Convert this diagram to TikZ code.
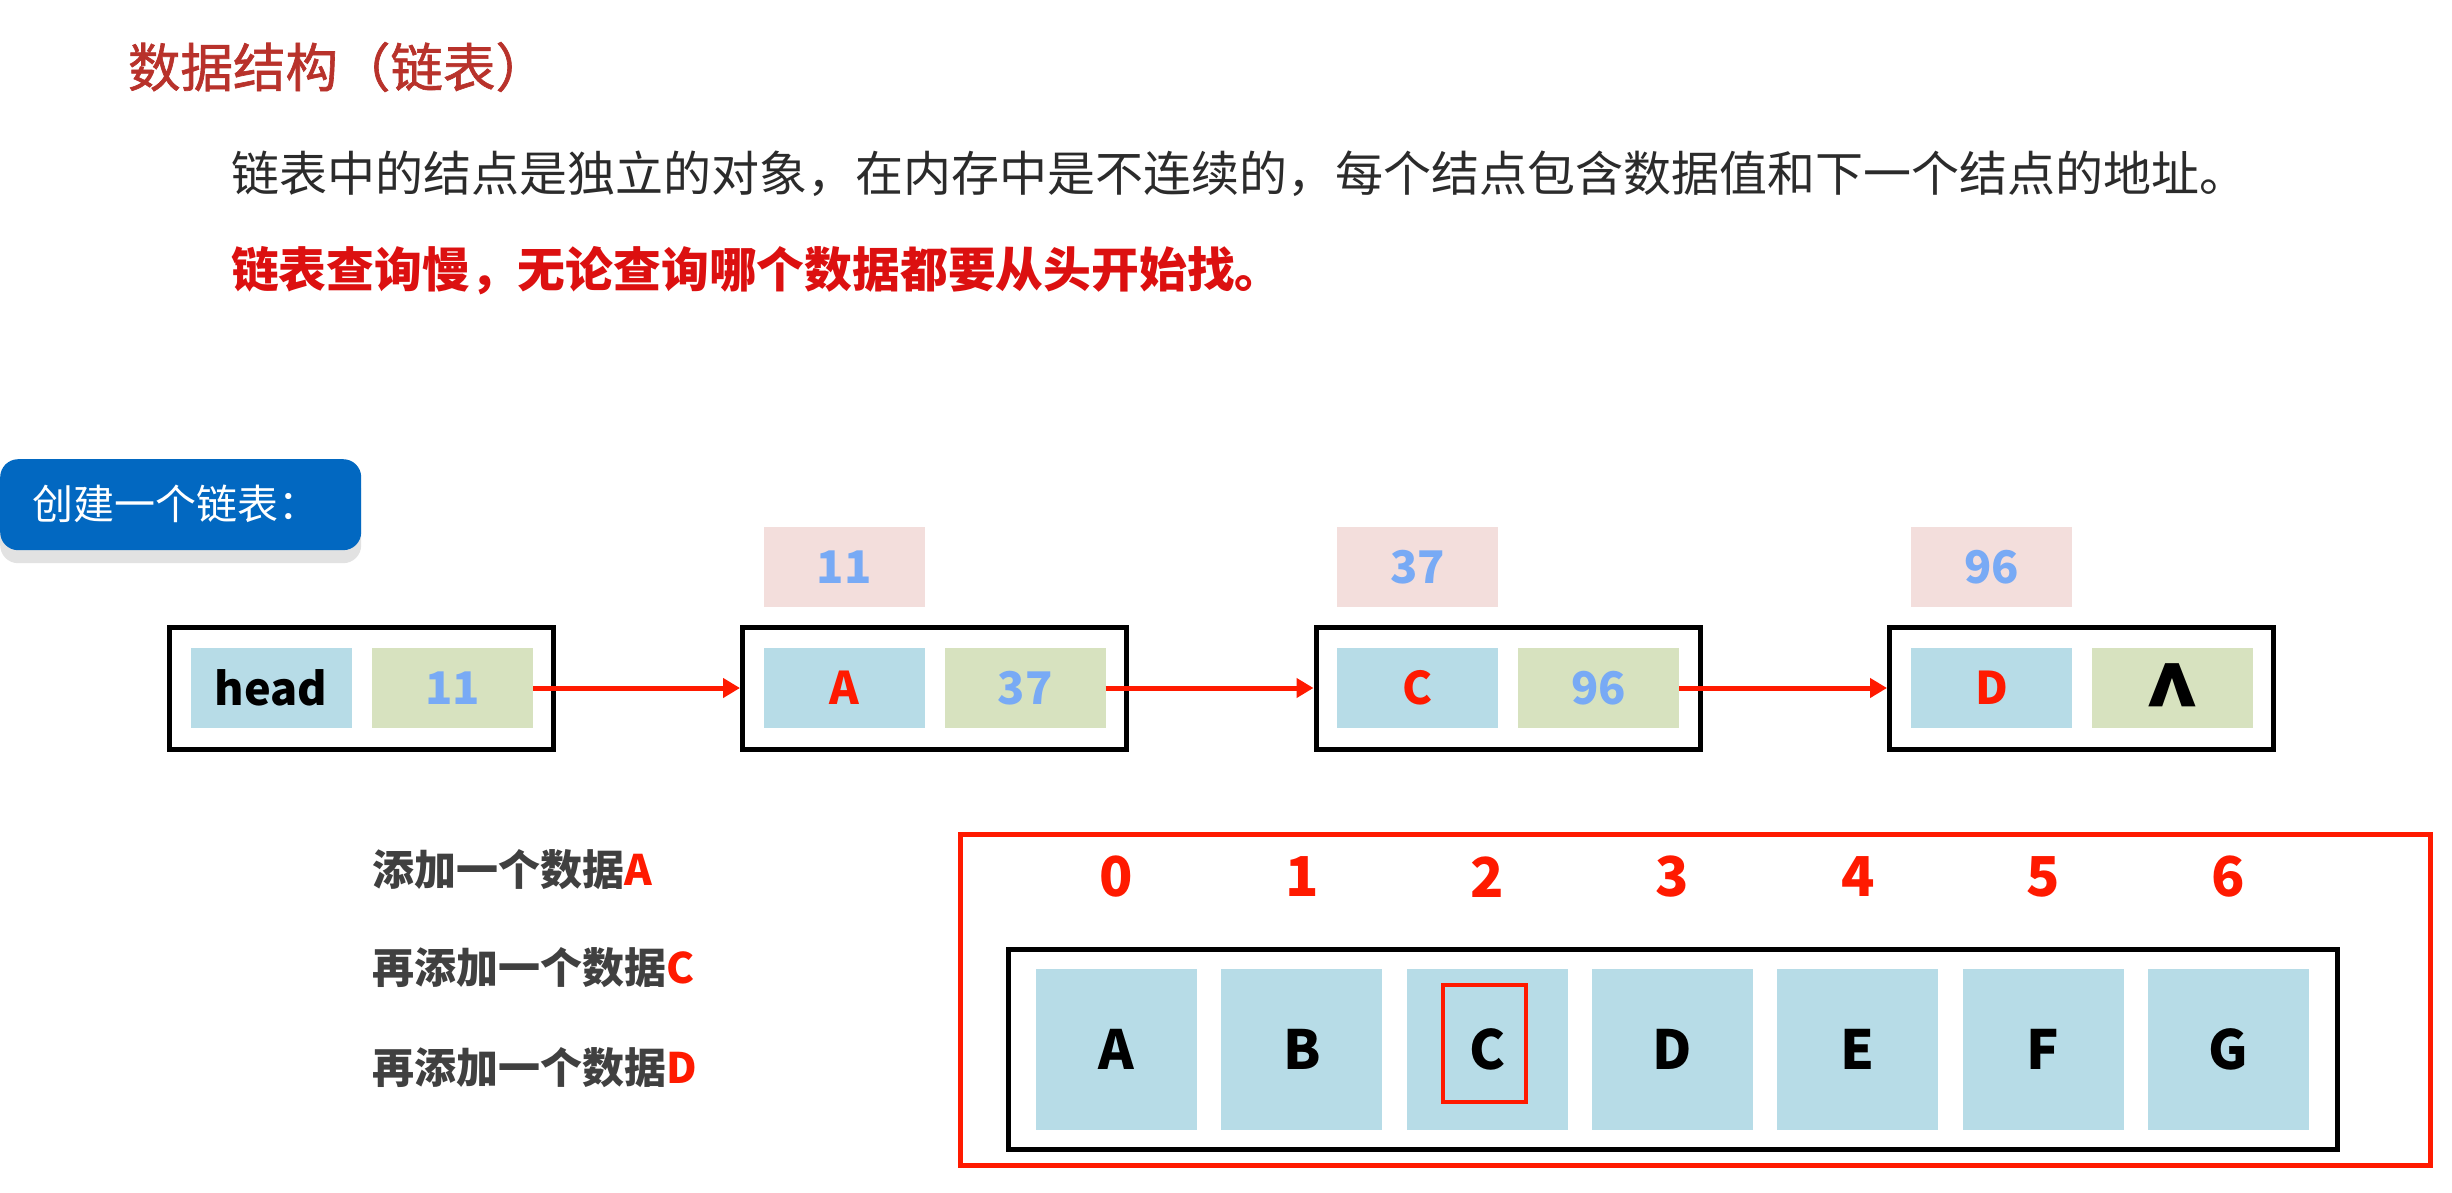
\documentclass[tikz,border=0pt]{standalone}
\usepackage{fontspec}
\setmainfont{Noto Sans CJK SC}
\newfontfamily\titlefont{Noto Sans CJK SC}[FakeBold=1.2]
\usetikzlibrary{arrows.meta}
\newcommand\myfs[1]{\fontsize{#1pt}{#1pt}\selectfont}
\definecolor{titlered}{HTML}{B8322B}
\definecolor{bodygray}{HTML}{2B2B2B}
\definecolor{linered}{HTML}{DC1010}
\definecolor{boxblue}{HTML}{0268C1}
\definecolor{shadowgray}{HTML}{E2E2E2}
\definecolor{cellblue}{HTML}{B7DCE7}
\definecolor{cellgreen}{HTML}{D7E2BF}
\definecolor{pinkbox}{HTML}{F3DEDC}
\definecolor{numblue}{HTML}{78AAF5}
\definecolor{brightred}{HTML}{FF1A00}
\definecolor{labelgray}{HTML}{404040}
\begin{document}
\begin{tikzpicture}[x=1pt,y=-1pt,
  txt/.style={inner sep=0pt, outer sep=0pt},
  cellb/.style={fill=cellblue, minimum width=161pt, minimum height=80pt, inner sep=0pt, outer sep=0pt, font=\myfs{45}\bfseries},
  cellg/.style={cellb, fill=cellgreen},
  lbl/.style={cellb, fill=pinkbox, text=numblue},
  lnode/.style={draw=black, line width=5pt, minimum width=384pt, minimum height=122pt, inner sep=0pt},
  acell/.style={fill=cellblue, minimum width=161pt, minimum height=161pt, inner sep=0pt, font=\myfs{54}\bfseries},
  idx/.style={text=brightred, font=\myfs{55}\bfseries, inner sep=0pt},
  link/.style={draw=brightred, line width=5pt, -{Triangle[length=17pt,width=19pt]}},
  sublabel/.style={txt, anchor=west, font=\myfs{42}\bfseries, text=labelgray},
]
\useasboundingbox (0,0) rectangle (2452,1193);
\fill[white] (0,0) rectangle (2452,1193);

% headings
\node[txt, anchor=west, text=titlered, font=\titlefont\myfs{52.5}] (title) at (128,67) {数据结构（链表）};
\node[txt, anchor=west, text=bodygray, font=\myfs{48}] (line1) at (231,174) {链表中的结点是独立的对象，在内存中是不连续的，每个结点包含数据值和下一个结点的地址。};
\node[txt, anchor=west, text=linered, font=\myfs{47.8}\bfseries] (line2) at (231,271) {链表查询慢，无论查询哪个数据都要从头开始找。};

% blue tag
\node[fill=shadowgray, rounded corners=18pt, minimum width=361pt, minimum height=91pt, inner sep=0pt, anchor=north west] (tagshadow) at (0,472) {};
\node[fill=boxblue, rounded corners=18pt, minimum width=361pt, minimum height=91pt, inner sep=0pt, anchor=north west] (tag) at (0,459) {};
\node[txt, anchor=west, text=white, font=\myfs{41}] (tagtext) at (32,504) {创建一个链表：};

% linked list
\node[lnode] (nh) at (361.5,688) {};
\node[cellb] (hv) at (271,688) {head};
\node[cellg, text=numblue] (hn) at (452.5,688) {11};

\node[lnode] (na) at (934.5,688) {};
\node[cellb, text=brightred] (av) at (844,688) {A};
\node[cellg, text=numblue] (an) at (1025,688) {37};
\node[lbl] (la) at (844,567) {11};

\node[lnode] (nc) at (1508,688) {};
\node[cellb, text=brightred] (cv) at (1417.5,688) {C};
\node[cellg, text=numblue] (cn) at (1598.5,688) {96};
\node[lbl] (lc) at (1417.5,567) {37};

\node[lnode] (nd) at (2081.5,688) {};
\node[cellb, text=brightred] (dv) at (1991.5,688) {D};
\node[cellg, font=\myfs{95}\bfseries] (dn) at (2172.5,688) {\smash{\raisebox{-48pt}{\textasciicircum}}};
\node[lbl] (ld) at (1991.5,567) {96};

\draw[link] (hn.east) -- (na.west);
\draw[link] (an.east) -- (nc.west);
\draw[link] (cn.east) -- (nd.west);

% steps
\node[sublabel] (s1) at (372,870) {添加一个数据\textcolor{brightred}{A}};
\node[sublabel] (s2) at (372,968) {再添加一个数据\textcolor{brightred}{C}};
\node[sublabel] (s3) at (372,1068) {再添加一个数据\textcolor{brightred}{D}};

% array
\node[draw=brightred, line width=5pt, minimum width=1470pt, minimum height=331pt, inner sep=0pt] (outer) at (1695.5,1000) {};
\node[draw=black, line width=5pt, minimum width=1329pt, minimum height=200pt, inner sep=0pt] (arr) at (1672.5,1049.5) {};
\foreach \i/\l in {0/A,1/B,2/C,3/D,4/E,5/F,6/G} {
  \node[acell] (cell\i) at ({1116.5+185.33*\i},1049.5) {\l};
  \node[idx] (idx\i) at ({1116.5+185.33*\i},877) {\i};
}
\node[draw=brightred, line width=4pt, minimum width=83pt, minimum height=117pt, inner sep=0pt] (hl) at (1484.5,1043.5) {};
\end{tikzpicture}
\end{document}
